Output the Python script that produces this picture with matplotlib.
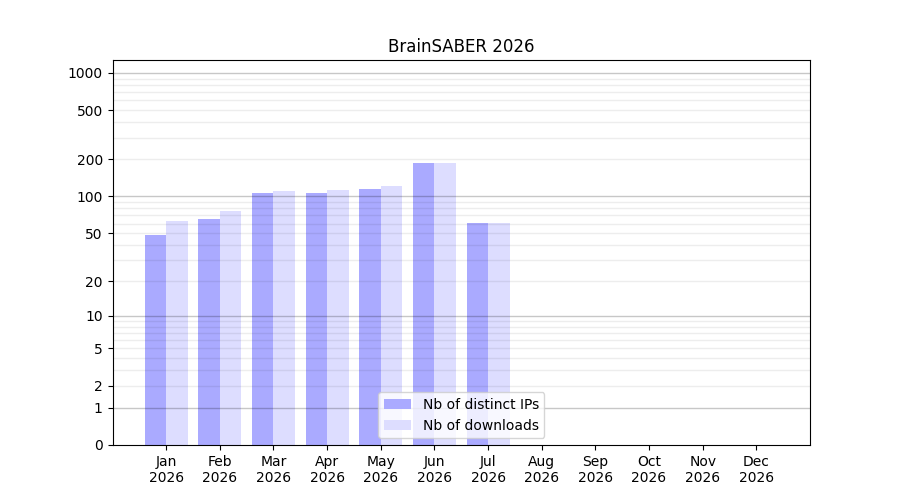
import numpy as np
import matplotlib
matplotlib.use("Agg")
import matplotlib.pyplot as plt

months = ["Jan", "Feb", "Mar", "Apr", "May", "Jun", "Jul", "Aug", "Sep", "Oct", "Nov", "Dec"]
year = "2026"
distinct_ips = [48, 65, 107, 106, 115, 187, 61, 0, 0, 0, 0, 0]
downloads = [63, 76, 111, 113, 122, 187, 61, 0, 0, 0, 0, 0]
ytick_values = [0, 1, 2, 5, 10, 20, 50, 100, 200, 500, 1000]

fig, ax = plt.subplots(figsize=(9, 5), dpi=100)
ax.set_yscale('function', functions=(lambda v: np.log10(1 + np.maximum(v, 0)),
                                     lambda y: 10 ** y - 1))
x = np.arange(len(months))
w = 0.4
ax.bar(x - w / 2, distinct_ips, width=w, color="#aaaaff", label="Nb of distinct IPs", zorder=1)
ax.bar(x + w / 2, downloads, width=w, color="#ddddff", label="Nb of downloads", zorder=1)

ax.set_xlim(-1, 12)
ax.set_ylim(0, 1270)
ax.set_yticks(ytick_values)
ax.set_yticklabels([str(v) for v in ytick_values])
minor = [m * d for d in (1, 10, 100) for m in range(2, 10)]
ax.set_yticks(minor, minor=True)
ax.tick_params(axis='y', which='minor', length=0)
for v in minor:
    ax.axhline(v, color='k', alpha=0.07, lw=1, zorder=2)
for v in (1, 10, 100, 1000):
    ax.axhline(v, color='k', alpha=0.22, lw=1, zorder=2)

ax.set_xticks(x)
ax.set_xticklabels([f"{m}\n{year}" for m in months])
ax.set_title("BrainSABER 2026")
ax.legend(loc="lower center")
fig.savefig("out.png", dpi=100)
